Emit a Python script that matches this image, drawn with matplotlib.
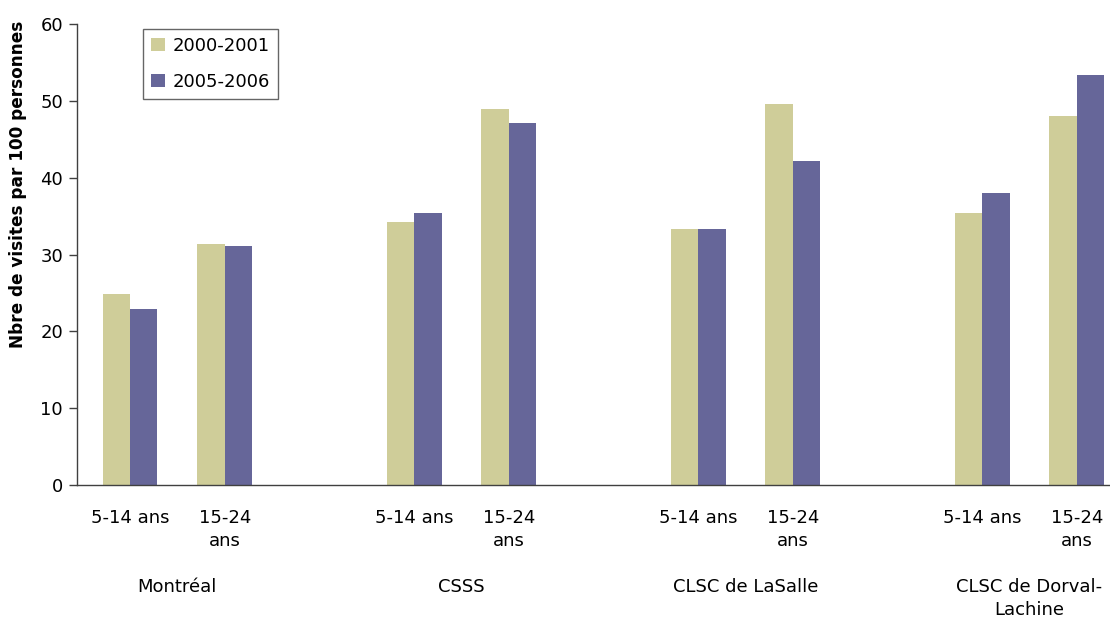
import numpy as np
import matplotlib
matplotlib.use('Agg')
import matplotlib.pyplot as plt
from matplotlib.transforms import blended_transform_factory

# data
groups = ['Montréal', 'CSSS', 'CLSC de LaSalle', 'CLSC de Dorval-\nLachine']
ages = ['5-14 ans', '15-24\nans']
series = ['2000-2001', '2005-2006']
v_2000 = [24.9, 31.4, 34.2, 49.0, 33.3, 49.6, 35.4, 48.0]
v_2005 = [22.9, 31.1, 35.4, 47.1, 33.3, 42.2, 38.0, 53.3]
colors = ['#CFCD99', '#666699']

plt.rcParams['font.family'] = 'DejaVu Sans'

# categories laid out with an empty slot between groups
pos = []
for g in range(len(groups)):
    pos += [g * 3, g * 3 + 1]
pos = np.array(pos)
w = 0.29

fig = plt.figure(figsize=(11.1, 6.2), dpi=100)
ax = fig.add_axes([77 / 1110, 1 - 485 / 620, 1 - 77 / 1110, (485 - 24) / 620])

ax.bar(pos - w / 2, v_2000, width=w, color=colors[0], label=series[0])
ax.bar(pos + w / 2, v_2005, width=w, color=colors[1], label=series[1])

ax.set_xlim(-0.56, 10.35)
ax.set_ylim(0, 60)
ax.set_yticks(range(0, 61, 10))
ax.tick_params(axis='y', labelsize=13, length=6, width=1, color='#404040', pad=4)

ax.set_xticks(pos)
ax.set_xticklabels(ages * len(groups), fontsize=13, linespacing=1.35)
ax.tick_params(axis='x', length=0, pad=17)

for s in ['top', 'right']:
    ax.spines[s].set_visible(False)
for s in ['left', 'bottom']:
    ax.spines[s].set_color('#404040')
    ax.spines[s].set_linewidth(1)

# group labels under the age labels
tr = blended_transform_factory(ax.transData, fig.transFigure)
for g, name in enumerate(groups):
    ax.text(g * 3 + 0.5, 1 - 578 / 620, name, transform=tr, ha='center', va='top',
            fontsize=13, linespacing=1.35, multialignment='center')

fig.text(18 / 1110, 1 - 184 / 620, 'Nbre de visites par 100 personnes', rotation=90,
         ha='center', va='center', fontsize=12.2, fontweight='bold')

leg = ax.legend(loc='upper left', fontsize=13, frameon=True, fancybox=False,
                handlelength=0.75, handleheight=0.75, handletextpad=0.45, borderpad=0.45,
                labelspacing=1.0, borderaxespad=0)
leg.set_bbox_to_anchor(((143 - 77) / 1033, 1 - (29 - 24) / 461), transform=ax.transAxes)
leg.get_frame().set_edgecolor('#404040')
leg.get_frame().set_linewidth(1)

fig.savefig('out.png', dpi=100)
